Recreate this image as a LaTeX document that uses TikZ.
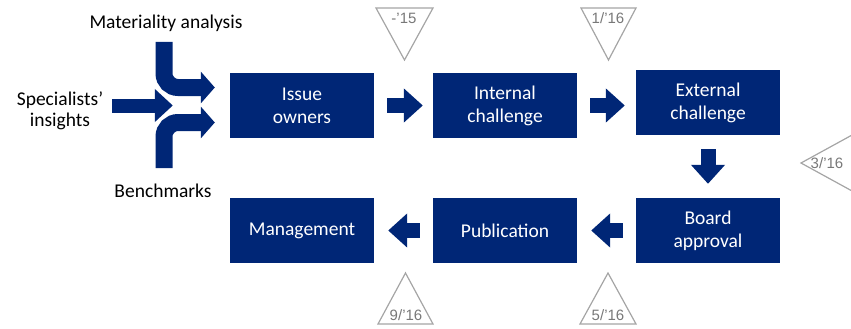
\documentclass[tikz,border=0pt]{standalone}
\usepackage{fontspec}
\setmainfont{Carlito}
\newfontfamily\arialfont{Liberation Sans}
\usetikzlibrary{arrows.meta}
\definecolor{navy}{RGB}{0,38,118}
\definecolor{milegray}{RGB}{165,165,165}
\definecolor{milefont}{RGB}{120,120,120}

\begin{document}
\begin{tikzpicture}
	[x=1pt, y=-1pt, node distance={203pt},
	 box/.style = {fill=navy, text=white, minimum width=144pt, minimum height=65pt, inner sep=0pt, align=center, font=\fontsize{19.5}{23}\selectfont},
	 flow/.style = {navy, line width=15pt, -{Triangle[length=19pt, width=33pt]}},
	 feed/.style = {navy, line width=17pt, rounded corners=14pt, -{Triangle[length=14pt, width=31pt]}},
	 inlabel/.style = {font=\fontsize{19.5}{21}\selectfont, align=center},
	 mile/.style = {draw=milegray, line width=1.2pt, line join=miter},
	 miletext/.style = {text=milefont, font=\arialfont\fontsize{15}{15}\selectfont}]
	\useasboundingbox (0,0) rectangle (851,329);
	\node[box] (1) at (302,105.5) {Issue\\owners};
	\node[box] (2) [right of = 1] {Internal\\challenge};
	\node[box] (3) [right of = 2, yshift=3pt] {External\\challenge};
	\node[box] (4) [below of = 3, node distance={128pt}] {Board\\approval};
	\node[box] (5) [left of = 4] {Publication};
	\node[box] (6) [left of = 5] {Management};
	\draw[flow, shorten <=13pt, shorten >=10pt] (1) -- (2);
	\draw[flow, shorten <=13pt, shorten >=11pt] (2.east) -- (2.east -| 3.west);
	\draw[flow, shorten <=14pt, shorten >=14pt] (3) -- (4);
	\draw[flow, shorten <=13pt, shorten >=14pt] (4) -- (5);
	\draw[flow, shorten <=13pt, shorten >=14pt] (5) -- (6);
	% inputs
	\node[inlabel, anchor=base] (mat) at (166,29) {Materiality analysis};
	\node[inlabel] (spec) at (60,111) {Specialists’\\insights};
	\node[inlabel, anchor=base] (bench) at (163,197) {Benchmarks};
	\coordinate (m) at (164,42);
	\coordinate (s) at (112,105.5);
	\coordinate (b) at (164,168);
	\draw[feed, shorten >=15pt] (m) |- ([yshift=18pt]1.west);
	\draw[feed, shorten >=15pt] (b) |- ([yshift=-17pt]1.west);
	\draw[flow, line width=14pt, -{Triangle[length=18pt, width=32pt]}, shorten >=57pt] (s) -- (1);
	% milestones
	\draw[mile] (376,8) -- (433,8) -- (404.5,60) -- cycle;
	\node[miletext] (t1) at (404,18) {-’15};
	\draw[mile] (581,8) -- (636,8) -- (608.5,60) -- cycle;
	\node[miletext] (t2) at (608,18) {1/’16};
	\draw[mile] (801,163) -- (853,134.5) -- (853,191.5) -- cycle;
	\node[miletext] (t3) at (827,163) {3/’16};
	\draw[mile] (378,324) -- (433,324) -- (405.5,273) -- cycle;
	\node[miletext] (t4) at (406,315) {9/’16};
	\draw[mile] (580,324) -- (636,324) -- (608,273) -- cycle;
	\node[miletext] (t5) at (608,315) {5/’16};
\end{tikzpicture}
\end{document}
